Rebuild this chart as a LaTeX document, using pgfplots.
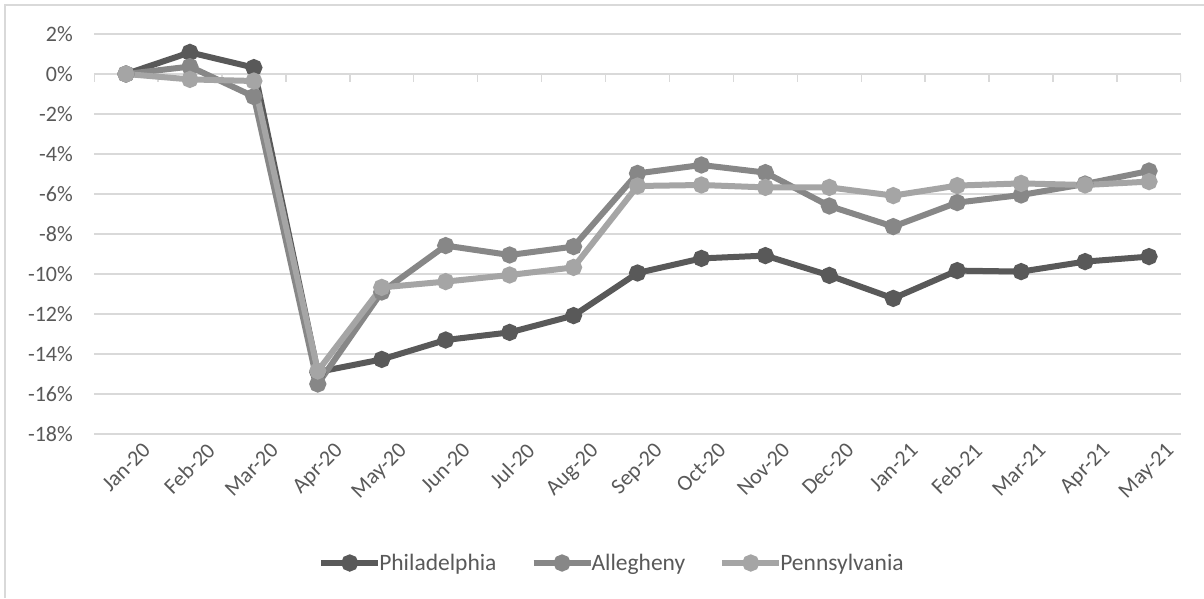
\documentclass[border=0pt]{standalone}
\usepackage{fontspec}
\setmainfont{Carlito}
\usepackage{pgfplots}
\pgfplotsset{compat=1.18}
\definecolor{phil}{HTML}{595959}
\definecolor{alle}{HTML}{878787}
\definecolor{penn}{HTML}{A5A5A5}
\definecolor{gridc}{HTML}{D9D9D9}
\definecolor{txt}{HTML}{595959}
\begin{document}
\begin{tikzpicture}[x=1pt,y=1pt]
\useasboundingbox (0,0) rectangle (1204,598);
\fill[white] (0,0) rectangle (1204,598);
\draw[gridc, line width=1.2pt] (5,0) -- (5,593) -- (1204,593);
\begin{axis}[
  at={(94pt,164pt)}, anchor=south west,
  scale only axis, width=1087pt, height=400pt,
  xmin=-0.5, xmax=16.5, ymin=-18, ymax=2,
  axis line style={draw=none},
  xtick={0,...,16},
  xticklabels={Jan-20,Feb-20,Mar-20,Apr-20,May-20,Jun-20,Jul-20,Aug-20,Sep-20,Oct-20,Nov-20,Dec-20,Jan-21,Feb-21,Mar-21,Apr-21,May-21},
  ytick={-18,-16,...,2},
  yticklabels={-18\%,-16\%,-14\%,-12\%,-10\%,-8\%,-6\%,-4\%,-2\%,0\%,2\%},
  major tick length=0pt,
  ymajorgrids, grid style={gridc, line width=2pt},
  yticklabel style={font=\fontsize{22}{26}\selectfont, text=txt, inner sep=0pt, anchor=east, xshift=-21pt},
  xticklabel style={font=\fontsize{22}{26}\selectfont, text=txt, inner sep=0pt, rotate=45, anchor=north east, xshift=6pt, yshift=-16pt},
  every axis plot/.append style={line width=6pt, mark=*, mark size=5.5pt, mark options={solid}},
  legend style={at={(0.4765,-0.3225)}, anchor=center, draw=none, fill=none,
    font=\fontsize{23.5}{27}\selectfont, text=txt, legend columns=-1,
    /tikz/every even column/.append style={column sep=32pt},
    inner sep=0pt},
  legend cell align=left,
  legend image code/.code={
    \draw[mark repeat=2,mark phase=2,#1] plot coordinates {(0pt,0pt) (28.5pt,0pt) (57pt,0pt)};
  },
]
\draw[gridc, line width=2pt] (axis cs:-0.5,0) -- (axis cs:16.5,0);
\foreach \i in {-0.5,0.5,...,16.5} {\edef\temp{\noexpand\draw[gridc,line width=1.5pt] (axis cs:\i,0) -- ++(0pt,-8pt);}\temp}
\addplot[phil] coordinates {
(0,0) (1,1.08) (2,0.32) (3,-14.9) (4,-14.27) (5,-13.3) (6,-12.92) (7,-12.08) (8,-9.95) (9,-9.22) (10,-9.08) (11,-10.07) (12,-11.22) (13,-9.83) (14,-9.88) (15,-9.38) (16,-9.13)};
\addlegendentry{\hspace{-4pt}Philadelphia}
\addplot[alle] coordinates {
(0,0) (1,0.37) (2,-1.13) (3,-15.5) (4,-10.9) (5,-8.58) (6,-9.05) (7,-8.63) (8,-4.97) (9,-4.55) (10,-4.93) (11,-6.6) (12,-7.63) (13,-6.43) (14,-6.05) (15,-5.5) (16,-4.85)};
\addlegendentry{\hspace{-4pt}Allegheny}
\addplot[penn] coordinates {
(0,0) (1,-0.27) (2,-0.35) (3,-14.85) (4,-10.67) (5,-10.38) (6,-10.05) (7,-9.67) (8,-5.6) (9,-5.55) (10,-5.67) (11,-5.67) (12,-6.08) (13,-5.58) (14,-5.47) (15,-5.55) (16,-5.38)};
\addlegendentry{\hspace{-4pt}Pennsylvania}
\end{axis}
\end{tikzpicture}
\end{document}
